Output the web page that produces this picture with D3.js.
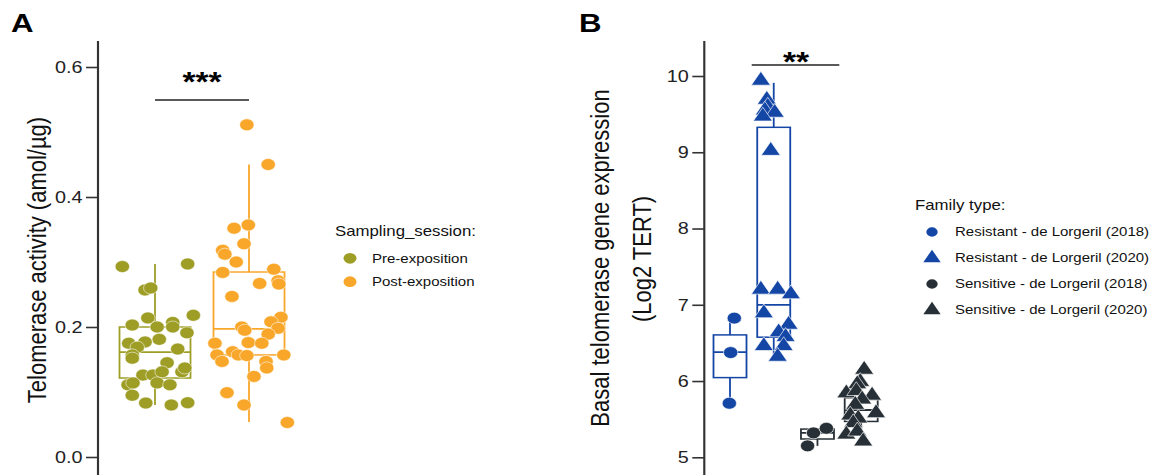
<!DOCTYPE html>
<html>
<head>
<meta charset="utf-8">
<script src="https://cdn.jsdelivr.net/npm/d3@7"></script>
<style>
  html, body { margin: 0; padding: 0; background: #fff; }
  svg { display: block; font-family: "Liberation Sans", Arial, sans-serif; }
</style>
</head>
<body>
<svg id="chart"></svg>
<script>
// data
var sessions = ['Pre-exposition', 'Post-exposition']
var preValues = [0.293, 0.297, 0.257, 0.26, 0.218, 0.214, 0.203, 0.200, 0.207, 0.200, 0.191, 0.181, 0.177, 0.175, 0.169, 0.166,
  0.157, 0.152, 0.145, 0.126, 0.126, 0.131, 0.131, 0.137, 0.111, 0.114, 0.114, 0.111, 0.095, 0.083, 0.080, 0.0835]
var preJitter = [-0.46, 0.46, -0.14, -0.06, 0.54, -0.10, -0.32, 0.03, 0.25, 0.25, 0.45, 0.06, -0.14, -0.37, -0.25, 0.32,
  -0.32, -0.32, 0.17, -0.17, -0.03, 0.10, 0.38, 0.42, -0.38, -0.31, 0.03, 0.21, -0.32, -0.13, 0.23, 0.46]
var postValues = [0.511, 0.450, 0.352, 0.357, 0.328, 0.318, 0.312, 0.300, 0.284, 0.289, 0.267, 0.271, 0.266, 0.247, 0.215,
  0.208, 0.198, 0.200, 0.195, 0.189, 0.175, 0.176, 0.175, 0.157, 0.147, 0.162, 0.157, 0.156, 0.157, 0.147, 0.137, 0.124,
  0.099, 0.080, 0.053]
var postJitter = [-0.03, 0.27, -0.21, -0.01, -0.07, -0.37, -0.34, -0.18, -0.37, 0.35, 0.15, 0.41, 0.42, -0.24, 0.45,
  0.31, 0.41, -0.10, -0.06, 0.27, -0.48, -0.01, 0.18, -0.45, -0.38, -0.23, -0.15, -0.03, 0.49, 0.24, 0.25, 0.07,
  -0.31, -0.07, 0.54]
// [lower whisker, q1, median, q3, upper whisker]
var preBox = [0.080, 0.1215, 0.1615, 0.200, 0.297]
var postBox = [0.054, 0.157, 0.197, 0.2846, 0.450]
var ticksA = [0, 0.2, 0.4, 0.6]

var families = ['Resistant - de Lorgeril (2018)', 'Resistant - de Lorgeril (2020)',
  'Sensitive - de Lorgeril (2018)', 'Sensitive - de Lorgeril (2020)']
var res2018 = [6.825, 6.373, 5.709]
var res2018Jitter = [0.13, 0.02, -0.02]
var res2020 = [9.94, 9.69, 9.60, 9.55, 9.52, 9.47, 9.02, 7.20, 7.20, 7.14, 6.89, 6.74, 6.64, 6.58, 6.46, 6.46, 6.32]
var res2020Jitter = [-0.39, -0.21, -0.18, -0.27, 0.03, -0.33, -0.09, -0.39, 0.12, 0.52, -0.30, 0.45, 0.15, 0.36, -0.30, 0.30, 0.12]
var sens2018 = [5.32, 5.38, 5.15]
var sens2018Jitter = [-0.12, 0.27, -0.30]
var sens2020 = [6.15, 5.99, 5.96, 5.84, 5.87, 5.81, 5.76, 5.69, 5.58, 5.55, 5.51, 5.45, 5.30, 5.34, 5.21]
var sens2020Jitter = [0.09, -0.03, -0.12, -0.45, -0.15, 0.33, 0.03, -0.18, 0.45, -0.33, -0.09, -0.24, -0.45, -0.12, 0.06]
var familyBoxes = [
  [5.709, 6.045, 6.378, 6.605, 6.825],
  [6.35, 6.575, 7.0, 9.327, 9.91],
  [5.15, 5.24, 5.32, 5.37, 5.38],
  [5.21, 5.47, 5.62, 5.78, 6.15]
]
var ticksB = [5, 6, 7, 8, 9, 10]

// the figure is stretched horizontally, so draw in a narrower box and let the viewBox stretch it
var SX = 1.2
var W = 1155 / SX, H = 475
var FONT = '"Liberation Sans", Arial, sans-serif'
var AXIS = '#333'

var svg = d3.select('#chart')
  .attr('width', 1155).attr('height', H)
  .attr('viewBox', '0 0 ' + W + ' ' + H)
  .attr('preserveAspectRatio', 'none')

function drawAxis (g, x, y, ticks, fmt) {
  var axis = g.append('g')
    .attr('transform', 'translate(' + x + ',0)')
    .call(d3.axisLeft(y).tickValues(ticks).tickFormat(fmt).tickSize(10).tickSizeOuter(0).tickPadding(3))
  axis.select('.domain').remove()
  axis.selectAll('.tick line').attr('stroke', AXIS).attr('stroke-width', 1.6)
  axis.selectAll('.tick text').attr('fill', '#222').style('font-size', '16.5px').style('font-family', FONT)
  g.append('line')
    .attr('x1', x).attr('x2', x).attr('y1', 41).attr('y2', H + 5)
    .attr('stroke', AXIS).attr('stroke-width', 1.8)
}

function drawBox (g, cx, bw, y, b, color) {
  g.append('line').attr('x1', cx).attr('x2', cx).attr('y1', y(b[0])).attr('y2', y(b[1]))
    .attr('stroke', color).attr('stroke-width', 1.5)
  g.append('line').attr('x1', cx).attr('x2', cx).attr('y1', y(b[3])).attr('y2', y(b[4]))
    .attr('stroke', color).attr('stroke-width', 1.5)
  g.append('rect').attr('x', cx - bw / 2).attr('width', bw)
    .attr('y', y(b[3])).attr('height', y(b[1]) - y(b[3]))
    .attr('fill', 'none').attr('stroke', color).attr('stroke-width', 1.5)
  g.append('line').attr('x1', cx - bw / 2).attr('x2', cx + bw / 2).attr('y1', y(b[2])).attr('y2', y(b[2]))
    .attr('stroke', color).attr('stroke-width', 1.8)
}

// ---------- panel A ----------
var colA = { 'Pre-exposition': '#9e9e26', 'Post-exposition': '#f9a72b' }
var yA = d3.scaleLinear().domain([0, 0.6]).range([457, 67])
var xA = d3.scalePoint().domain(sessions).range([155 / SX, 249 / SX])
var bwA = 71 / SX
var gA = svg.append('g')

gA.append('text').attr('x', 11 / SX).attr('y', 32)
  .style('font-size', '26px').style('font-weight', 'bold').text('A')

drawAxis(gA, 98 / SX, yA, ticksA, d3.format('.1f'))

gA.append('text')
  .attr('transform', 'translate(' + (37 / SX) + ',260) rotate(-90)')
  .attr('text-anchor', 'middle').attr('dy', '0.35em')
  .style('font-size', '22px').attr('fill', '#111')
  .text('Telomerase activity (amol/\u00b5g)')

var setsA = [
  { s: 'Pre-exposition', v: preValues, j: preJitter, b: preBox },
  { s: 'Post-exposition', v: postValues, j: postJitter, b: postBox }
]
setsA.forEach(function (d) {
  drawBox(gA, xA(d.s), bwA, yA, d.b, colA[d.s])
})
setsA.forEach(function (d) {
  gA.append('g').selectAll('circle')
    .data(d.v)
    .enter()
    .append('circle')
    .attr('cx', function (v, i) { return xA(d.s) + d.j[i] * bwA })
    .attr('cy', function (v) { return yA(v) })
    .attr('r', 6)
    .attr('fill', colA[d.s])
    .attr('stroke', '#fff').attr('stroke-width', 0.5)
})

// significance
gA.append('line').attr('x1', xA(sessions[0])).attr('x2', xA(sessions[1])).attr('y1', 100).attr('y2', 100)
  .attr('stroke', '#222').attr('stroke-width', 1.4)
gA.append('text').attr('x', (xA(sessions[0]) + xA(sessions[1])) / 2).attr('y', 91)
  .attr('text-anchor', 'middle').style('font-size', '28px').style('font-weight', 'bold').text('***')

// legend A
gA.append('text').attr('x', 335 / SX).attr('y', 236.5).style('font-size', '14px').attr('fill', '#111')
  .text('Sampling_session:')
sessions.forEach(function (s, i) {
  var y = 258.3 + i * 23.4
  gA.append('circle').attr('cx', 350 / SX).attr('cy', y).attr('r', 5.4).attr('fill', colA[s])
  gA.append('text').attr('x', 372 / SX).attr('y', y).attr('dy', '0.35em')
    .style('font-size', '12.5px').attr('fill', '#111').text(s)
})

// ---------- panel B ----------
var colB = ['#1446a6', '#1446a6', '#273036', '#273036']
var shapeB = [d3.symbolCircle, d3.symbolTriangle, d3.symbolCircle, d3.symbolTriangle]
var sizeB = [112, 110, 112, 110]
var yB = d3.scaleLinear().domain([5, 10]).range([457.3, 76])
var xB = d3.scalePoint().domain(families).range([730 / SX, 861.2 / SX])
var bwB = 33 / SX
var gB = svg.append('g')

gB.append('text').attr('x', 579 / SX).attr('y', 32)
  .style('font-size', '26px').style('font-weight', 'bold').text('B')

drawAxis(gB, 704.3 / SX, yB, ticksB, d3.format('d'))

gB.append('text')
  .attr('transform', 'translate(' + (600 / SX) + ',258) rotate(-90)')
  .attr('text-anchor', 'middle').attr('dy', '0.35em')
  .style('font-size', '22px').attr('fill', '#111')
  .text('Basal telomerase gene expression')
gB.append('text')
  .attr('transform', 'translate(' + (642 / SX) + ',259) rotate(-90)')
  .attr('text-anchor', 'middle').attr('dy', '0.35em')
  .style('font-size', '22px').attr('fill', '#111')
  .text('(Log2 TERT)')

var setsB = [
  { v: res2018, j: res2018Jitter },
  { v: res2020, j: res2020Jitter },
  { v: sens2018, j: sens2018Jitter },
  { v: sens2020, j: sens2020Jitter }
]
families.forEach(function (f, k) {
  drawBox(gB, xB(f), bwB, yB, familyBoxes[k], colB[k])
})
families.forEach(function (f, k) {
  var sym = d3.symbol().type(shapeB[k]).size(sizeB[k])
  gB.append('g').selectAll('path')
    .data(setsB[k].v)
    .enter()
    .append('path')
    .attr('transform', function (v, i) {
      return 'translate(' + (xB(f) + setsB[k].j[i] * bwB) + ',' + yB(v) + ')'
    })
    .attr('d', sym)
    .attr('fill', colB[k])
    .attr('stroke', '#fff').attr('stroke-width', 0.6)
})

// significance
gB.append('line').attr('x1', 751.7 / SX).attr('x2', 839.3 / SX).attr('y1', 65).attr('y2', 65)
  .attr('stroke', '#222').attr('stroke-width', 1.4)
gB.append('text').attr('x', 796 / SX).attr('y', 71)
  .attr('text-anchor', 'middle').style('font-size', '28px').style('font-weight', 'bold').text('**')

// legend B
gB.append('text').attr('x', 915 / SX).attr('y', 210.5).style('font-size', '14px').attr('fill', '#111')
  .text('Family type:')
families.forEach(function (f, k) {
  var y = 232 + k * 26
  gB.append('path')
    .attr('transform', 'translate(' + (932 / SX) + ',' + y + ')')
    .attr('d', d3.symbol().type(shapeB[k]).size(k % 2 ? 90 : 70))
    .attr('fill', colB[k])
  gB.append('text').attr('x', 955 / SX).attr('y', y).attr('dy', '0.35em')
    .style('font-size', '12.5px').attr('fill', '#111').text(f)
})
</script>
</body>
</html>
